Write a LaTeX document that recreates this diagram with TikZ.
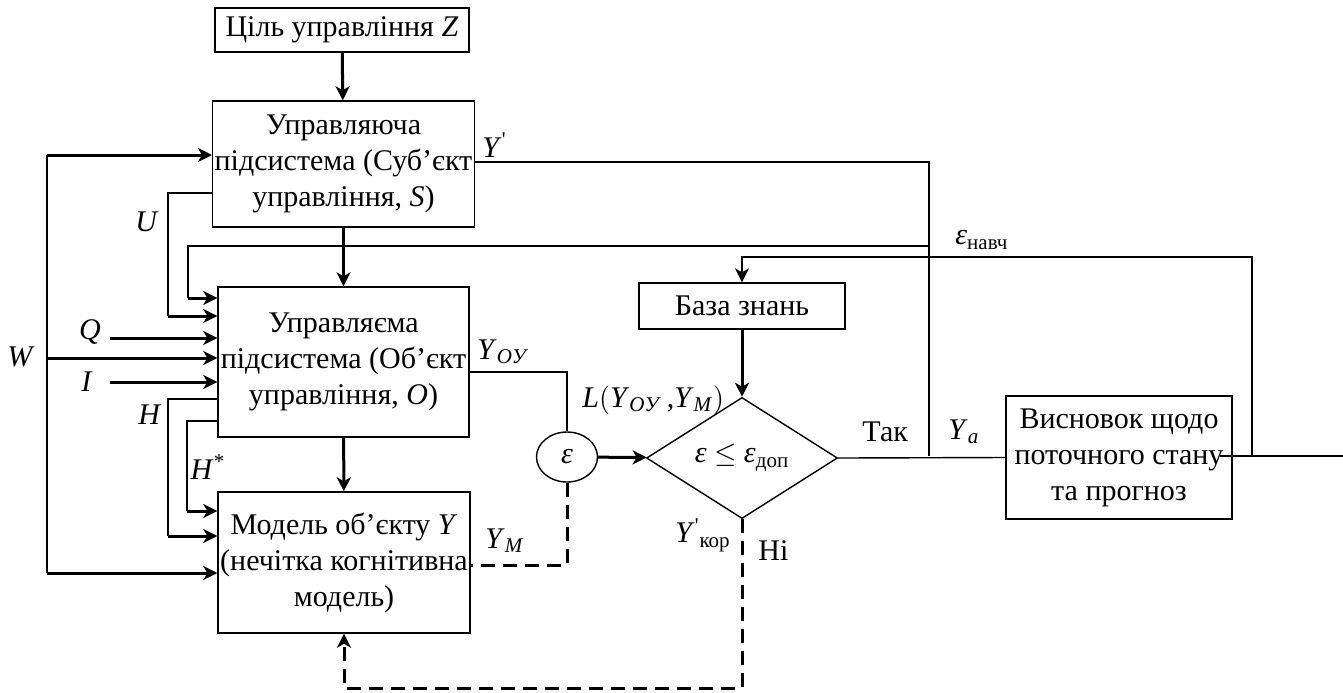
\documentclass[tikz,border=0pt]{standalone}
\usepackage{fontspec}
\setmainfont{Liberation Serif}
\usetikzlibrary{arrows.meta,shapes.geometric}
\tikzset{
  blk/.style={draw,line width=0.7pt,align=center,inner sep=1pt},
  lbl/.style={anchor=west,inner sep=0pt},
  wire/.style={line width=0.7pt},
  arr/.style={line width=1.5pt,-{Stealth[length=7pt,width=7pt,inset=2pt]}},
  tarr/.style={line width=0.7pt,-{Stealth[length=7pt,width=7pt,inset=2pt]}},
  dsh/.style={line width=1.5pt,dash pattern=on 7pt off 4pt},
}
\begin{document}
\begin{tikzpicture}[x=0.5pt,y=-0.5pt,font=\fontsize{15}{18}\selectfont]
\useasboundingbox (0,0) rectangle (1343,692);
% blocks
\node[blk,minimum width=127pt,minimum height=22pt] (goal) at (342,30) {Ціль управління \textit{Z}};
\node[blk,minimum width=125.5pt,minimum height=63pt] (subj) at (343.5,164) {Управляюча\\підсистема (Суб’єкт\\управління, \textit{S})};
\node[blk,minimum width=125.5pt,minimum height=75pt] (obj) at (343.5,362) {Управляєма\\підсистема (Об’єкт\\управління, \textit{O})};
\node[blk,minimum width=126pt,minimum height=70.5pt] (model) at (344,562.5) {Модель об’єкту \textit{Y}\\(нечітка когнітивна\\модель)};
\node[blk,minimum width=103pt,minimum height=23pt] (kb) at (742,306) {База знань};
\node[draw,line width=0.7pt,ellipse,inner sep=0pt,minimum width=30.5pt,minimum height=25pt] (eps) at (567,457) {\textit{ε}};
\node[draw,line width=0.7pt,diamond,inner sep=0pt,minimum width=95.5pt,minimum height=46pt] (cond) at (742,458) {\textit{ε} $\leq$ \textit{ε}\textsubscript{доп}};
\node[blk,minimum width=113pt,minimum height=61.5pt] (concl) at (1119,457.5) {Висновок щодо\\поточного стану\\та прогноз};
% labels
\node (lw) at (21,357) {\textit{W}};
\node (lu) at (147,222) {\textit{U}};
\node (lq) at (90,332) {\textit{Q}};
\node (li) at (87,382) {\textit{I}};
\node (lh) at (150,415) {\textit{H}};
\node (lhs) at (208,467) {\textit{H}\textsuperscript{*}};
\node[lbl] (lyp) at (482,145) {\textit{Y}\textsuperscript{\textquotesingle}};
\node[lbl] (lyoy) at (477,352) {\textit{Y}\textsubscript{\textit{OУ}}};
\node[lbl] (lym) at (485,541) {\textit{Y}\textsubscript{\textit{M}}};
\node[lbl] (ll) at (582,400) {\textit{L}$\big($\textit{Y}\textsubscript{\textit{OУ}}\,,\textit{Y}\textsubscript{\textit{M}}$\big)$};
\node[lbl] (lnav) at (955,240) {\textit{ε}\textsubscript{навч}};
\node[lbl] (ltak) at (862,432) {Так};
\node[lbl] (lya) at (948,432) {\textit{Y}\textsubscript{\textit{a}}};
\node[lbl] (lkor) at (675,535) {\textit{Y}\textsuperscript{\textquotesingle}\textsubscript{кор}};
\node[lbl] (lni) at (758,551) {Ні};
% junctions
\coordinate (wtop) at (47,155);
\coordinate (wmid) at (47,358);
\coordinate (wbot) at (47,573);
\coordinate (ypr) at (929,162);
\coordinate (yjn) at (929,456);
\coordinate (yoy) at (567,372);
\coordinate (nvr) at (1252,456);
\coordinate (ostart) at (1220,456);
\coordinate (out) at (1343,456);
% main chain
\draw[arr] (goal) -- (subj);
\draw[arr] (subj) -- (obj);
\draw[arr] (obj) -- (model);
% inputs W, Q, I
\draw[wire] (wtop) -- (wbot);
\draw[arr] (wtop) -- (subj.west |- wtop);
\draw[arr] (wmid) -- (obj.west |- wmid);
\draw[arr] (wbot) -- (model.west |- wbot);
\draw[arr] (110,338) -- (obj.west |- 0,338);
\draw[arr] (110,382) -- (obj.west |- 0,382);
% U, H, H*
\draw[wire] (subj.west |- 0,193) -- (168,193) -- (168,316);
\draw[arr] (168,316) -- (obj.west |- 0,316);
\draw[wire] (obj.west |- 0,399) -- (168,399) -- (168,536);
\draw[arr] (168,536) -- (model.west |- 0,536);
\draw[wire] (obj.west |- 0,421) -- (187,421) -- (187,511);
\draw[arr] (187,511) -- (model.west |- 0,511);
% feedback to O
\draw[wire] (929,246) -- (188,246) -- (188,298);
\draw[arr] (188,298) -- (obj.west |- 0,298);
% outputs
\draw[wire] (subj.east |- ypr) -- (ypr) -- (yjn);
\draw[wire] (obj.east |- yoy) -- (yoy) -- (eps.north);
\draw[arr] (eps) -- (cond);
\draw[arr] (kb) -- (cond);
\draw[wire] (cond.east) -- (concl.west);
\draw[wire] (ostart) -- (out);
\draw[tarr] (nvr) -- (1252,257) -- (kb.north |- 0,257) -- (kb.north);
% dashed
\draw[dsh] (eps.south) -- (eps.south |- 0,565) -- (model.east |- 0,565);
\draw[dsh,-{Stealth[length=7pt,width=7pt,inset=2pt]}] (cond.south) -- (cond.south |- 0,688) -- (model.south |- 0,688) -- (model.south);
\end{tikzpicture}
\end{document}
